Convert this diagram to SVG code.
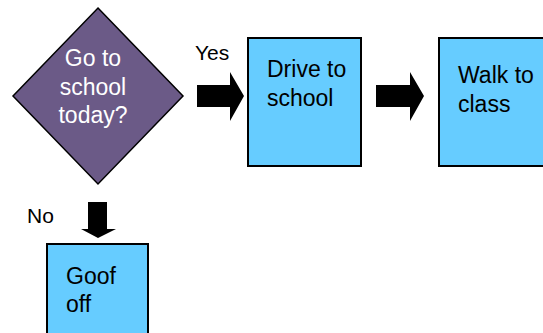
<svg xmlns="http://www.w3.org/2000/svg" width="543" height="333" viewBox="0 0 543 333">
<style>
.box{fill:#66CCFF;stroke:#000;stroke-width:2}
.t{font-family:"Liberation Sans",Arial,sans-serif;font-size:23px;fill:#000}
.l{font-family:"Liberation Sans",Arial,sans-serif;font-size:21px;fill:#000}
.w{fill:#fff;text-anchor:middle}
.arr{fill:#000}
</style>
<rect width="543" height="333" fill="#fff"/>
<g id="decision">
<polygon points="98,8 183,96 98,184 13,96" fill="#6B5A87" stroke="#000" stroke-width="1.5"/>
<text class="t w" x="93" y="66">Go to</text>
<text class="t w" x="93" y="95">school</text>
<text class="t w" x="93" y="123">today?</text>
</g>
<g id="drive">
<rect class="box" x="248" y="38" width="113" height="128"/>
<text class="t" x="267" y="77">Drive to</text>
<text class="t" x="267" y="106">school</text>
</g>
<g id="walk">
<rect class="box" x="439" y="38" width="110" height="128"/>
<text class="t" x="458" y="83">Walk to</text>
<text class="t" x="458" y="112">class</text>
</g>
<g id="goof">
<rect class="box" x="47" y="244" width="101" height="100"/>
<text class="t" x="66" y="284">Goof</text>
<text class="t" x="66" y="312">off</text>
</g>
<g id="connectors">
<polygon class="arr" points="197,85 230,85 230,72 244,96 230,121 230,107 197,107"/>
<polygon class="arr" points="376,85 410,85 410,72 424,96 410,121 410,107 376,107"/>
<polygon class="arr" points="88,202 107,202 107,229 116,229 98,238 81,229 88,229"/>
<text class="l" x="195" y="60">Yes</text>
<text class="l" x="27" y="223">No</text>
</g>
</svg>
